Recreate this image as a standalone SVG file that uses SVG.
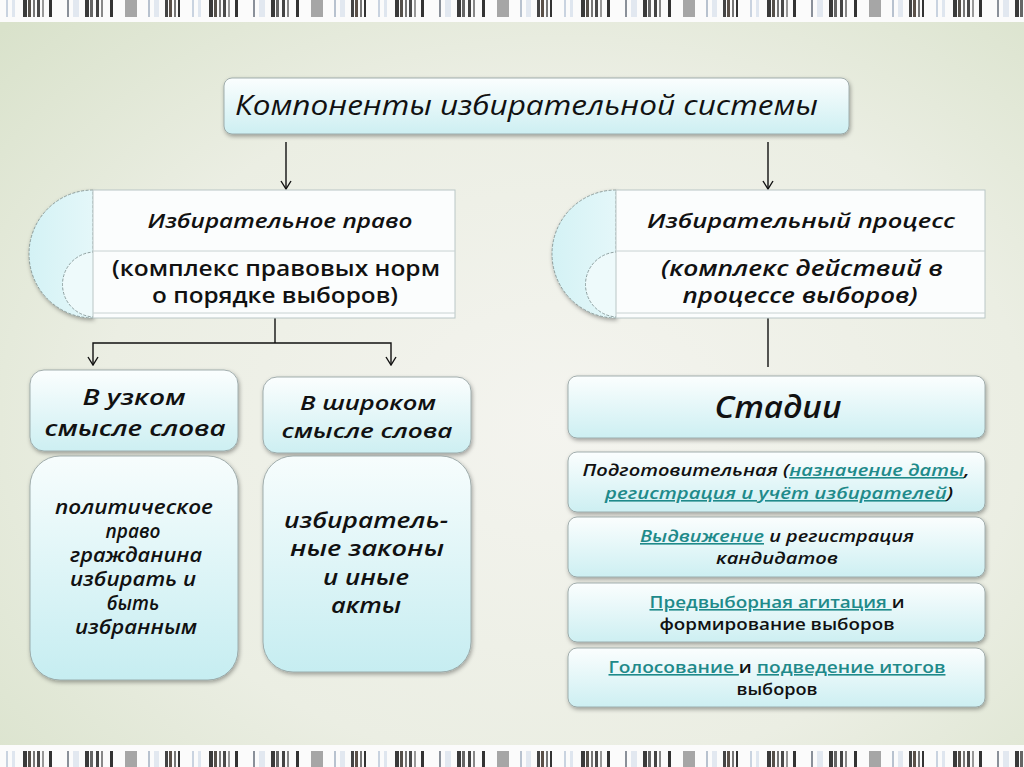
<svg xmlns="http://www.w3.org/2000/svg" width="1024" height="767" viewBox="0 0 1024 767">
<defs>
<radialGradient id="bg" cx="0.55" cy="0.55" r="0.75">
<stop offset="0" stop-color="#f4f4ef"/>
<stop offset="0.6" stop-color="#ebeee3"/>
<stop offset="1" stop-color="#d9e2cb"/>
</radialGradient>
<linearGradient id="boxg" x1="0" y1="0" x2="0" y2="1">
<stop offset="0" stop-color="#fbfefe"/>
<stop offset="1" stop-color="#cdeff2"/>
</linearGradient>
<linearGradient id="bigg" x1="0" y1="0" x2="0" y2="1">
<stop offset="0" stop-color="#f7fdfd"/>
<stop offset="1" stop-color="#c6edf1"/>
</linearGradient>
<linearGradient id="semig" x1="0" y1="0" x2="1" y2="0">
<stop offset="0" stop-color="#d4f2f5"/>
<stop offset="1" stop-color="#e4f7f9"/>
</linearGradient>
<filter id="sh" x="-10%" y="-10%" width="120%" height="130%">
<feDropShadow dx="1" dy="2" stdDeviation="2" flood-color="#000" flood-opacity="0.35"/>
</filter>
<pattern id="bars" x="0" y="0" width="186" height="20" patternUnits="userSpaceOnUse">
<rect x="0" y="0" width="186" height="20" fill="#fbfbfb"/>
<rect x="6" y="0" width="2" height="20" fill="#c9d3e0"/>
<rect x="12" y="0" width="3" height="20" fill="#dfe6ef"/>
<rect x="23" y="0" width="4" height="20" fill="#3a3a3a"/>
<rect x="28" y="0" width="3" height="20" fill="#55504a"/>
<rect x="33" y="0" width="2" height="20" fill="#777"/>
<rect x="37" y="0" width="3" height="20" fill="#4a4a4a"/>
<rect x="42" y="0" width="2" height="20" fill="#999"/>
<rect x="49" y="0" width="3" height="20" fill="#333"/>
<rect x="67" y="0" width="2" height="20" fill="#8a9099"/>
<rect x="73" y="0" width="6" height="20" fill="#e2e8f0"/>
<rect x="85" y="0" width="4" height="20" fill="#3a3a3a"/>
<rect x="90" y="0" width="3" height="20" fill="#666"/>
<rect x="96" y="0" width="3" height="20" fill="#444"/>
<rect x="101" y="0" width="2" height="20" fill="#888"/>
<rect x="110" y="0" width="3" height="20" fill="#333"/>
<rect x="125" y="0" width="12" height="20" fill="#a6a6a6"/>
<rect x="148" y="0" width="2" height="20" fill="#b8c2cf"/>
<rect x="154" y="0" width="5" height="20" fill="#e2e8f0"/>
<rect x="165" y="0" width="3" height="20" fill="#444"/>
<rect x="169" y="0" width="3" height="20" fill="#5a5048"/>
<rect x="174" y="0" width="2" height="20" fill="#777"/>
<rect x="178" y="0" width="2" height="20" fill="#333"/>
</pattern>
<marker id="arr" viewBox="0 0 12 12" refX="11" refY="6" markerWidth="12" markerHeight="12" markerUnits="userSpaceOnUse" orient="auto-start-reverse">
<path d="M3,1 L11,6 L3,11" fill="none" stroke="#111" stroke-width="1.4"/>
</marker>
</defs>
<style>
.box{fill:url(#boxg);stroke:#8e9c9c;stroke-width:0.8;filter:url(#sh)}
.big{fill:url(#bigg);stroke:#8e9c9c;stroke-width:0.8;filter:url(#sh)}
.wbox{fill:#fbfdfd;stroke:#b9c6c6;stroke-width:1}
.semi{fill:url(#semig);stroke:#7a8a8a;stroke-width:0.8;stroke-dasharray:3 1.5}
.semi2{fill:#eefafb;stroke:#7a8a8a;stroke-width:0.8;stroke-dasharray:3 1.5}
.sep{stroke:#c8d2d2;stroke-width:1}
.ln{stroke:#111;stroke-width:1.4;fill:none}
.it{font-family:"Open Sans","DejaVu Sans",sans-serif;font-style:italic;font-weight:600;fill:#111;text-anchor:middle}
.bd{font-family:"Open Sans","DejaVu Sans",sans-serif;font-weight:600;fill:#111;text-anchor:middle}
.lk{fill:#1f8a8a;text-decoration:underline}
</style>
<rect x="0" y="0" width="1024" height="767" fill="url(#bg)"/>
<rect x="0" y="0" width="1024" height="22" fill="#fbfbfb"/>
<rect x="0" y="0" width="1024" height="17" fill="url(#bars)"/>
<rect x="0" y="745" width="1024" height="22" fill="#fbfbfb"/>
<rect x="0" y="751" width="1024" height="16" fill="url(#bars)"/>

<g id="connectors">
<line class="ln" x1="286" y1="142" x2="286" y2="189" marker-end="url(#arr)"/>
<line class="ln" x1="768" y1="142" x2="768" y2="189" marker-end="url(#arr)"/>
<polyline class="ln" points="275,318 275,343"/>
<polyline class="ln" points="93,365 93,343 391,343 391,365" marker-start="url(#arr)" marker-end="url(#arr)"/>
<line class="ln" x1="768" y1="318" x2="768" y2="367"/>
</g>

<g id="title">
<rect class="box" x="224" y="78" width="625" height="56" rx="8"/>
<text x="235" y="115" class="it" style="text-anchor:start;font-weight:500" font-size="28" textLength="583" lengthAdjust="spacingAndGlyphs">Компоненты избирательной системы</text>
</g>

<g id="pravo">
<path class="semi" d="M93,190 A64,64 0 0 0 93,318 Z" filter="url(#sh)"/>
<path class="semi2" d="M95,252 A32,32 0 0 0 95,317 Z"/>
<rect class="wbox" x="93" y="190" width="362" height="128"/>
<line class="sep" x1="93" y1="251" x2="455" y2="251"/>
<line class="sep" x1="93" y1="313" x2="455" y2="313"/>
<text x="280" y="228" class="it" font-size="20" textLength="265" lengthAdjust="spacingAndGlyphs">Избирательное право</text>
<text x="276" y="276" class="bd" font-size="21" textLength="328" lengthAdjust="spacingAndGlyphs">(комплекс правовых норм</text>
<text x="275" y="303" class="bd" font-size="21" textLength="246" lengthAdjust="spacingAndGlyphs">о порядке выборов)</text>
</g>

<g id="process">
<path class="semi" d="M616,190 A64,64 0 0 0 616,318 Z" filter="url(#sh)"/>
<path class="semi2" d="M618,252 A32,32 0 0 0 618,317 Z"/>
<rect class="wbox" x="616" y="190" width="369" height="128"/>
<line class="sep" x1="616" y1="251" x2="985" y2="251"/>
<line class="sep" x1="616" y1="313" x2="985" y2="313"/>
<text x="801" y="228" class="it" font-size="20" textLength="308" lengthAdjust="spacingAndGlyphs">Избирательный процесс</text>
<text x="802" y="276" class="it" font-size="21" textLength="282" lengthAdjust="spacingAndGlyphs">(комплекс действий в</text>
<text x="800" y="303" class="it" font-size="21" textLength="235" lengthAdjust="spacingAndGlyphs">процессе выборов)</text>
</g>

<g id="narrow">
<rect class="box" x="30" y="370" width="208" height="81" rx="14"/>
<text x="134" y="405" class="it" font-size="22" textLength="103" lengthAdjust="spacingAndGlyphs">В узком</text>
<text x="135" y="436" class="it" font-size="22" textLength="181" lengthAdjust="spacingAndGlyphs">смысле слова</text>
</g>

<g id="wide">
<rect class="box" x="263" y="377" width="208" height="76" rx="14"/>
<text x="368" y="410" class="it" font-size="20" textLength="136" lengthAdjust="spacingAndGlyphs">В широком</text>
<text x="367" y="438" class="it" font-size="20" textLength="171" lengthAdjust="spacingAndGlyphs">смысле слова</text>
</g>

<g id="narrow-def">
<rect class="big" x="30" y="456" width="208" height="224" rx="30"/>
<text x="134" y="514" class="it" font-size="19" textLength="158" lengthAdjust="spacingAndGlyphs">политическое</text>
<text x="133" y="538" class="it" font-size="19">право</text>
<text x="136" y="562" class="it" font-size="19" textLength="132" lengthAdjust="spacingAndGlyphs">гражданина</text>
<text x="133" y="586" class="it" font-size="19" textLength="126" lengthAdjust="spacingAndGlyphs">избирать и</text>
<text x="133" y="610" class="it" font-size="19">быть</text>
<text x="136" y="634" class="it" font-size="19" textLength="122" lengthAdjust="spacingAndGlyphs">избранным</text>
</g>

<g id="wide-def">
<rect class="big" x="263" y="456" width="208" height="216" rx="30"/>
<text x="366" y="528" class="it" font-size="22" textLength="164" lengthAdjust="spacingAndGlyphs">избиратель-</text>
<text x="367" y="556" class="it" font-size="22" textLength="154" lengthAdjust="spacingAndGlyphs">ные законы</text>
<text x="366" y="585" class="it" font-size="22" textLength="86" lengthAdjust="spacingAndGlyphs">и иные</text>
<text x="366" y="613" class="it" font-size="22" textLength="70" lengthAdjust="spacingAndGlyphs">акты</text>
</g>

<g id="stadii">
<rect class="box" x="568" y="376" width="417" height="62" rx="9"/>
<text x="778" y="418" class="it" font-size="30" textLength="127" lengthAdjust="spacingAndGlyphs">Стадии</text>
</g>

<g id="stage1">
<rect class="box" x="568" y="452" width="417" height="60" rx="9"/>
<text x="776" y="476" class="it" font-size="16" textLength="387" lengthAdjust="spacingAndGlyphs">Подготовительная (<tspan class="lk">назначение даты</tspan>,</text>
<text x="779" y="499" class="it" font-size="16" textLength="348" lengthAdjust="spacingAndGlyphs"><tspan class="lk">регистрация и учёт избирателей</tspan>)</text>
</g>

<g id="stage2">
<rect class="box" x="568" y="517" width="417" height="60" rx="9"/>
<text x="777" y="542" class="it" font-size="16" textLength="274" lengthAdjust="spacingAndGlyphs"><tspan class="lk">Выдвижение</tspan> и регистрация</text>
<text x="777" y="564" class="it" font-size="16" textLength="122" lengthAdjust="spacingAndGlyphs">кандидатов</text>
</g>

<g id="stage3">
<rect class="box" x="568" y="583" width="417" height="59" rx="9"/>
<text x="777" y="608" class="bd" font-size="16" textLength="255" lengthAdjust="spacingAndGlyphs"><tspan class="lk">Предвыборная агитация </tspan>и</text>
<text x="777" y="630" class="bd" font-size="16" textLength="235" lengthAdjust="spacingAndGlyphs">формирование выборов</text>
</g>

<g id="stage4">
<rect class="box" x="568" y="648" width="417" height="59" rx="9"/>
<text x="777" y="673" class="bd" font-size="16" textLength="337" lengthAdjust="spacingAndGlyphs"><tspan class="lk">Голосование </tspan>и <tspan class="lk">подведение итогов</tspan></text>
<text x="777" y="695" class="bd" font-size="16" textLength="81" lengthAdjust="spacingAndGlyphs">выборов</text>
</g>
</svg>
